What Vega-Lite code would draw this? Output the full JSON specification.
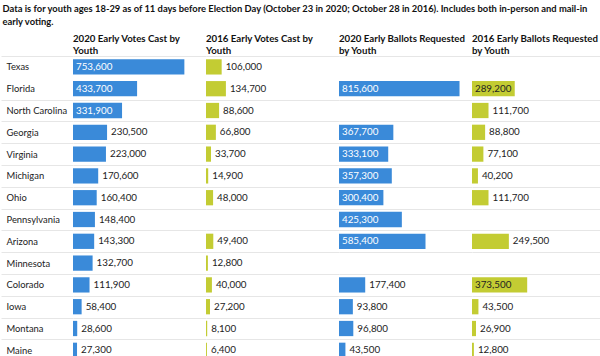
{
  "$schema": "https://vega.github.io/schema/vega-lite/v6.json",
  "padding": {"left": 0, "top": 4, "right": 0, "bottom": 0},
  "background": "white",
  "title": {
    "text": ["Data is for youth ages 18-29 as of 11 days before Election Day (October 23 in 2020; October 28 in 2016). Includes both in-person and mail-in", "early voting."],
    "anchor": "start",
    "frame": "bounds",
    "font": "Lato",
    "fontSize": 9.4,
    "fontWeight": "bold",
    "color": "#111111",
    "lineHeight": 13,
    "offset": 6,
    "dx": 2
  },
  "data": {
    "values": [
      {"state": "Texas", "measure": "2020 Early Votes Cast by Youth", "value": 753600},
      {"state": "Texas", "measure": "2016 Early Votes Cast by Youth", "value": 106000},
      {"state": "Florida", "measure": "2020 Early Votes Cast by Youth", "value": 433700},
      {"state": "Florida", "measure": "2016 Early Votes Cast by Youth", "value": 134700},
      {"state": "Florida", "measure": "2020 Early Ballots Requested by Youth", "value": 815600},
      {"state": "Florida", "measure": "2016 Early Ballots Requested by Youth", "value": 289200},
      {"state": "North Carolina", "measure": "2020 Early Votes Cast by Youth", "value": 331900},
      {"state": "North Carolina", "measure": "2016 Early Votes Cast by Youth", "value": 88600},
      {"state": "North Carolina", "measure": "2016 Early Ballots Requested by Youth", "value": 111700},
      {"state": "Georgia", "measure": "2020 Early Votes Cast by Youth", "value": 230500},
      {"state": "Georgia", "measure": "2016 Early Votes Cast by Youth", "value": 66800},
      {"state": "Georgia", "measure": "2020 Early Ballots Requested by Youth", "value": 367700},
      {"state": "Georgia", "measure": "2016 Early Ballots Requested by Youth", "value": 88800},
      {"state": "Virginia", "measure": "2020 Early Votes Cast by Youth", "value": 223000},
      {"state": "Virginia", "measure": "2016 Early Votes Cast by Youth", "value": 33700},
      {"state": "Virginia", "measure": "2020 Early Ballots Requested by Youth", "value": 333100},
      {"state": "Virginia", "measure": "2016 Early Ballots Requested by Youth", "value": 77100},
      {"state": "Michigan", "measure": "2020 Early Votes Cast by Youth", "value": 170600},
      {"state": "Michigan", "measure": "2016 Early Votes Cast by Youth", "value": 14900},
      {"state": "Michigan", "measure": "2020 Early Ballots Requested by Youth", "value": 357300},
      {"state": "Michigan", "measure": "2016 Early Ballots Requested by Youth", "value": 40200},
      {"state": "Ohio", "measure": "2020 Early Votes Cast by Youth", "value": 160400},
      {"state": "Ohio", "measure": "2016 Early Votes Cast by Youth", "value": 48000},
      {"state": "Ohio", "measure": "2020 Early Ballots Requested by Youth", "value": 300400},
      {"state": "Ohio", "measure": "2016 Early Ballots Requested by Youth", "value": 111700},
      {"state": "Pennsylvania", "measure": "2020 Early Votes Cast by Youth", "value": 148400},
      {"state": "Pennsylvania", "measure": "2020 Early Ballots Requested by Youth", "value": 425300},
      {"state": "Arizona", "measure": "2020 Early Votes Cast by Youth", "value": 143300},
      {"state": "Arizona", "measure": "2016 Early Votes Cast by Youth", "value": 49400},
      {"state": "Arizona", "measure": "2020 Early Ballots Requested by Youth", "value": 585400},
      {"state": "Arizona", "measure": "2016 Early Ballots Requested by Youth", "value": 249500},
      {"state": "Minnesota", "measure": "2020 Early Votes Cast by Youth", "value": 132700},
      {"state": "Minnesota", "measure": "2016 Early Votes Cast by Youth", "value": 12800},
      {"state": "Colorado", "measure": "2020 Early Votes Cast by Youth", "value": 111900},
      {"state": "Colorado", "measure": "2016 Early Votes Cast by Youth", "value": 40000},
      {"state": "Colorado", "measure": "2020 Early Ballots Requested by Youth", "value": 177400},
      {"state": "Colorado", "measure": "2016 Early Ballots Requested by Youth", "value": 373500},
      {"state": "Iowa", "measure": "2020 Early Votes Cast by Youth", "value": 58400},
      {"state": "Iowa", "measure": "2016 Early Votes Cast by Youth", "value": 27200},
      {"state": "Iowa", "measure": "2020 Early Ballots Requested by Youth", "value": 93800},
      {"state": "Iowa", "measure": "2016 Early Ballots Requested by Youth", "value": 43500},
      {"state": "Montana", "measure": "2020 Early Votes Cast by Youth", "value": 28600},
      {"state": "Montana", "measure": "2016 Early Votes Cast by Youth", "value": 8100},
      {"state": "Montana", "measure": "2020 Early Ballots Requested by Youth", "value": 96800},
      {"state": "Montana", "measure": "2016 Early Ballots Requested by Youth", "value": 26900},
      {"state": "Maine", "measure": "2020 Early Votes Cast by Youth", "value": 27300},
      {"state": "Maine", "measure": "2016 Early Votes Cast by Youth", "value": 6400},
      {"state": "Maine", "measure": "2020 Early Ballots Requested by Youth", "value": 43500},
      {"state": "Maine", "measure": "2016 Early Ballots Requested by Youth", "value": 12800}
    ]
  },
  "facet": {
    "column": {
      "field": "measure",
      "type": "nominal",
      "title": null,
      "sort": ["2020 Early Votes Cast by Youth", "2016 Early Votes Cast by Youth", "2020 Early Ballots Requested by Youth", "2016 Early Ballots Requested by Youth"],
      "header": {
        "labelExpr": "datum.value == '2020 Early Votes Cast by Youth' ? ['2020 Early Votes Cast by', 'Youth'] : datum.value == '2016 Early Votes Cast by Youth' ? ['2016 Early Votes Cast by', 'Youth'] : datum.value == '2020 Early Ballots Requested by Youth' ? ['2020 Early Ballots Requested', 'by Youth'] : ['2016 Early Ballots Requested', 'by Youth']",
        "labelAlign": "left",
        "labelAnchor": "start",
        "labelFont": "Lato",
        "labelFontSize": 9.7,
        "labelFontWeight": "bold",
        "labelColor": "#111111",
        "labelLineHeight": 12.5,
        "labelPadding": 0,
        "labelLimit": 0
      }
    }
  },
  "spacing": 0,
  "spec": {
    "width": 133,
    "height": {"step": 21.8},
    "encoding": {
      "y": {
        "field": "state",
        "type": "nominal",
        "sort": ["Texas", "Florida", "North Carolina", "Georgia", "Virginia", "Michigan", "Ohio", "Pennsylvania", "Arizona", "Minnesota", "Colorado", "Iowa", "Montana", "Maine"],
        "scale": {"paddingInner": 0, "paddingOuter": 0},
        "axis": {
          "title": null,
          "domain": false,
          "tickBand": "extent",
          "tickSize": 72,
          "tickColor": {"condition": {"test": "datum.value == 'Texas'", "value": "transparent"}, "value": "#e6e6e6"},
          "gridColor": {"condition": {"test": "datum.value == 'Texas'", "value": "transparent"}, "value": "#e6e6e6"},
          "grid": true,
          "labelAlign": "left",
          "labelPadding": -5,
          "labelFont": "Lato",
          "labelFontSize": 9.4,
          "labelColor": "#222222"
        }
      }
    },
    "layer": [
      {
        "mark": {"type": "bar", "height": {"band": 0.7}},
        "encoding": {
          "x": {"field": "value", "type": "quantitative", "scale": {"domain": [0, 856000]}, "axis": null},
          "color": {
            "field": "measure",
            "type": "nominal",
            "scale": {
              "domain": ["2020 Early Votes Cast by Youth", "2016 Early Votes Cast by Youth", "2020 Early Ballots Requested by Youth", "2016 Early Ballots Requested by Youth"],
              "range": ["#3a8ad9", "#c3cc33", "#3a8ad9", "#c3cc33"]
            },
            "legend": null
          }
        }
      },
      {
        "transform": [{"filter": "datum.value >= 260000"}],
        "mark": {"type": "text", "align": "left", "baseline": "middle", "dx": 3, "font": "Lato", "fontSize": 9.8},
        "encoding": {
          "x": {"datum": 0, "type": "quantitative"},
          "text": {"field": "value", "type": "quantitative", "format": ","},
          "color": {"condition": {"test": "indexof(datum.measure, '2020') == 0", "value": "white"}, "value": "#222222"}
        }
      },
      {
        "transform": [{"filter": "datum.value < 260000"}],
        "mark": {"type": "text", "align": "left", "baseline": "middle", "dx": 4, "font": "Lato", "fontSize": 9.8, "color": "#222222"},
        "encoding": {
          "x": {"field": "value", "type": "quantitative"},
          "text": {"field": "value", "type": "quantitative", "format": ","}
        }
      }
    ]
  },
  "config": {
    "view": {"stroke": null}
  }
}
